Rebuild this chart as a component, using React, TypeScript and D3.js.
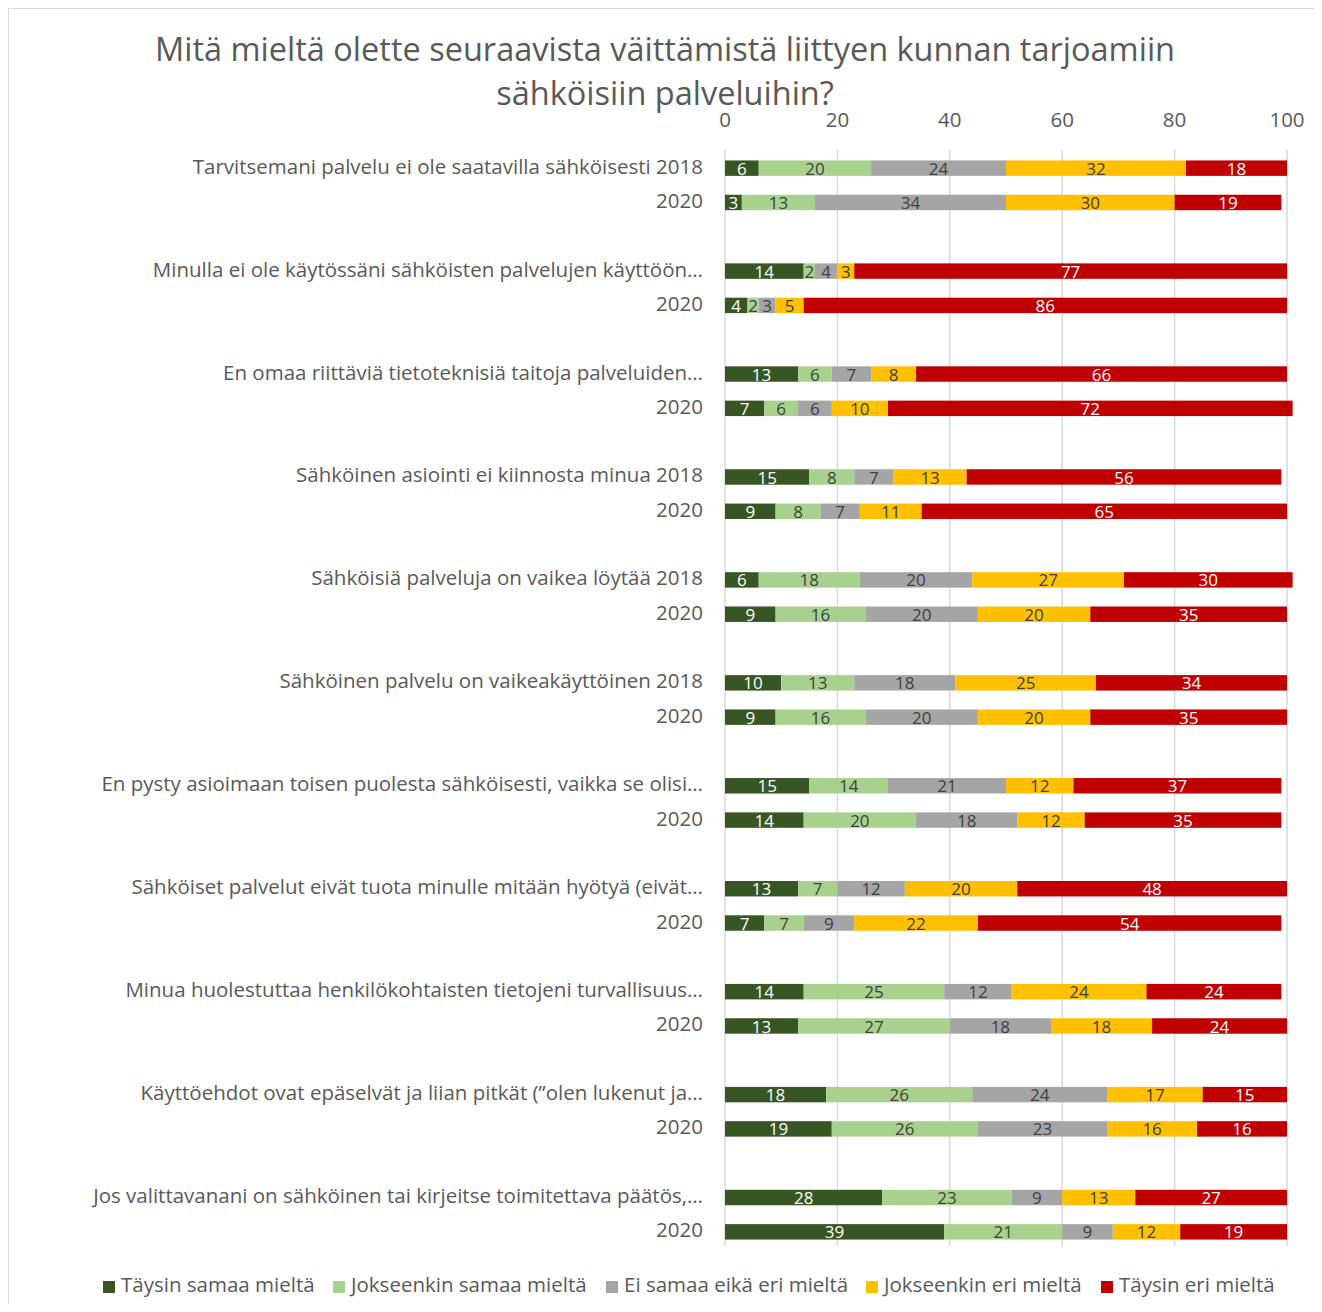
import React from 'react';
import * as d3 from 'd3';

// statement labels (2018 row), the 2020 row is labelled just "2020"
const statements = [
  'Tarvitsemani palvelu ei ole saatavilla sähköisesti 2018',
  'Minulla ei ole käytössäni sähköisten palvelujen käyttöön…',
  'En omaa riittäviä tietoteknisiä taitoja palveluiden…',
  'Sähköinen asiointi ei kiinnosta minua 2018',
  'Sähköisiä palveluja on vaikea löytää 2018',
  'Sähköinen palvelu on vaikeakäyttöinen 2018',
  'En pysty asioimaan toisen puolesta sähköisesti, vaikka se olisi…',
  'Sähköiset palvelut eivät tuota minulle mitään hyötyä (eivät…',
  'Minua huolestuttaa henkilökohtaisten tietojeni turvallisuus…',
  'Käyttöehdot ovat epäselvät ja liian pitkät (”olen lukenut ja…',
  'Jos valittavanani on sähköinen tai kirjeitse toimitettava päätös,…',
];
const secondYear = '2020';

const seriesNames = [
  'Täysin samaa mieltä',
  'Jokseenkin samaa mieltä',
  'Ei samaa eikä eri mieltä',
  'Jokseenkin eri mieltä',
  'Täysin eri mieltä',
];

// values per row: statement 1 2018, statement 1 2020, statement 2 2018, ...
const taysinSamaa = [6, 3, 14, 4, 13, 7, 15, 9, 6, 9, 10, 9, 15, 14, 13, 7, 14, 13, 18, 19, 28, 39];
const jokseenkinSamaa = [20, 13, 2, 2, 6, 6, 8, 8, 18, 16, 13, 16, 14, 20, 7, 7, 25, 27, 26, 26, 23, 21];
const eiSamaaEikaEri = [24, 34, 4, 3, 7, 6, 7, 7, 20, 20, 18, 20, 21, 18, 12, 9, 12, 18, 24, 23, 9, 9];
const jokseenkinEri = [32, 30, 3, 5, 8, 10, 13, 11, 27, 20, 25, 20, 12, 12, 20, 22, 24, 18, 17, 16, 13, 12];
const taysinEri = [18, 19, 77, 86, 66, 72, 56, 65, 30, 35, 34, 35, 37, 35, 48, 54, 24, 24, 15, 16, 27, 19];

const xTicks = [0, 20, 40, 60, 80, 100];

const colors = ['#375623', '#A9D18E', '#A5A5A5', '#FFC000', '#C00000'];
const labelColors = ['#ffffff', '#404040', '#404040', '#404040', '#ffffff'];

const FONT = '"Open Sans", "Noto Sans", sans-serif';

export default function App() {
  const width = 1306;
  const height = 1296;

  const seriesValues = [taysinSamaa, jokseenkinSamaa, eiSamaaEikaEri, jokseenkinEri, taysinEri];

  // rows, with a blank slot between statements
  const rows: { key: string; label: string; idx: number }[] = [];
  statements.forEach((s, i) => {
    if (i > 0) rows.push({ key: 'gap' + i, label: '', idx: -1 });
    rows.push({ key: 'r' + i + 'a', label: s, idx: i * 2 });
    rows.push({ key: 'r' + i + 'b', label: secondYear, idx: i * 2 + 1 });
  });

  const x = d3.scaleLinear().domain([0, 100]).range([717, 1279]);
  const y = d3
    .scaleBand()
    .domain(rows.map((r) => r.key))
    .range([143, 1241])
    .paddingInner(0.55)
    .paddingOuter(0.275);

  const stackData = taysinSamaa.map((_, i) => {
    const o: any = {};
    seriesNames.forEach((n, s) => (o[n] = seriesValues[s][i]));
    return o;
  });
  const stacked = d3.stack().keys(seriesNames)(stackData);
  const dataRows = rows.filter((r) => r.idx >= 0);

  // legend layout
  const legendX = [95, 325, 598, 858, 1093];

  return (
    <svg width={width} height={height} style={{ display: 'block', fontFamily: FONT }}>
      <rect x={0.5} y={0.5} width={width + 20} height={height + 20} fill="#ffffff" stroke="#d9d9d9" />

      <text x={657} y={44} textAnchor="middle" dominantBaseline="middle" fontSize={32.5} fill="#595959">
        Mitä mieltä olette seuraavista väittämistä liittyen kunnan tarjoamiin
      </text>
      <text x={657} y={88} textAnchor="middle" dominantBaseline="middle" fontSize={32.5} fill="#595959">
        sähköisiin palveluihin?
      </text>

      {/* gridlines */}
      {xTicks.map((t) => (
        <line key={'g' + t} x1={x(t)} x2={x(t)} y1={142} y2={1238} stroke="#d9d9d9" strokeWidth={1.5} />
      ))}
      {xTicks.map((t) => (
        <text key={'t' + t} x={x(t)} y={114} textAnchor="middle" dominantBaseline="middle" fontSize={20.5} fill="#595959">
          {t}
        </text>
      ))}

      {/* row labels */}
      {dataRows.map((r) => (
        <text
          key={'l' + r.key}
          x={695}
          y={(y(r.key) as number) + y.bandwidth() / 2}
          textAnchor="end"
          dominantBaseline="middle"
          fontSize={20.5}
          fill="#595959"
        >
          {r.label}
        </text>
      ))}

      {/* bars */}
      {stacked.map((layer, s) => (
        <g key={'s' + s}>
          {dataRows.map((r) => {
            const d = layer[r.idx];
            const y0 = y(r.key) as number;
            return (
              <g key={r.key}>
                <rect x={x(d[0])} y={y0} width={x(d[1]) - x(d[0])} height={y.bandwidth()} fill={colors[s]} />
                <text
                  x={(x(d[0]) + x(d[1])) / 2}
                  y={y0 + y.bandwidth() / 2 + 2}
                  textAnchor="middle"
                  dominantBaseline="middle"
                  fontSize={17}
                  fill={labelColors[s]}
                >
                  {d[1] - d[0]}
                </text>
              </g>
            );
          })}
        </g>
      ))}

      {/* legend */}
      {seriesNames.map((n, s) => (
        <g key={'lg' + s} transform={`translate(${legendX[s]},1279)`}>
          <rect x={0} y={-6} width={12} height={12} fill={colors[s]} />
          <text x={18} y={0} dominantBaseline="middle" fontSize={20.5} fill="#595959">
            {n}
          </text>
        </g>
      ))}
    </svg>
  );
}
